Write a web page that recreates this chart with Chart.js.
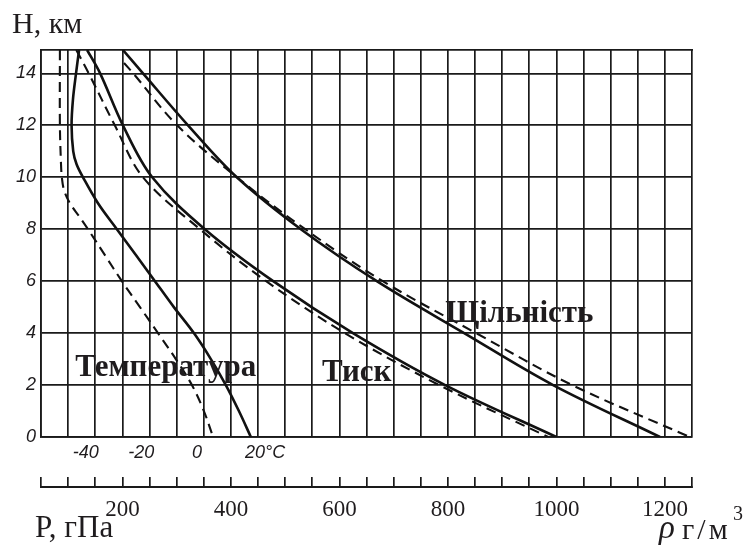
<!DOCTYPE html>
<html>
<head>
<meta charset="utf-8">
<script src="https://cdn.jsdelivr.net/npm/chart.js@4.4.1/dist/chart.umd.min.js"></script>
<style>
  html, body { margin: 0; padding: 0; background: #fff; }
  #chart { display: block; }
</style>
</head>
<body>
<canvas id="chart" width="749" height="546"></canvas>
<script>
// heights, km
const hTempStd = [14.9, 14, 13, 12, 11, 10.5, 10, 9, 8, 7, 6, 5, 4, 3, 2, 1, 0];
const tempStd = [-42.4, -43.5, -44.6, -45.1, -44.5, -43.3, -41, -35.6, -28.8, -21.9, -15.1, -8.3, -1.1, 5, 10.4, 15.1, 19.4];
const hTempDash = [14.9, 12, 10.5, 10, 9.5, 9, 8.5, 8, 7, 6, 5, 4, 3, 2, 1, 0];
const tempDash = [-49.3, -49.3, -48.9, -48.6, -47.8, -45.7, -42.4, -39.2, -33.1, -27, -20.5, -14, -7.6, -1.8, 2.5, 5.8];

const hLevels = [14.9, 14, 12, 10, 8, 6, 4, 2, 0];
const pressureStd = [135, 159, 201, 255, 352, 478, 625, 795, 1000];
const pressureDash = [115, 138, 186, 238, 343, 465, 610, 784, 985];
const densityStd = [201, 238, 321, 411, 529, 669, 830, 994, 1191];
const hDensityDash = [14.4, 14, 12, 10, 8, 6, 4, 2, 0];
const densityDash = [203, 220, 301, 411, 537, 680, 852, 1029, 1246];

const tempTicks = [-40, -20, 0, 20];
const pressureLabels = [200, 400, 600, 800, 1000, 1200];

const curveLabels = [
  { text: 'Температура', p: 113, h: 2.66 },
  { text: 'Тиск', p: 568, h: 2.46 },
  { text: 'Щільність', p: 795, h: 4.74 }
];

const INK = '#1f1c1e';
const GRID = '#1a1a1a';

function pts(xs, hs) {
  return xs.map((v, i) => ({ x: v, y: hs[i] }));
}

function curve(data, axis, dashed) {
  return {
    data: data,
    xAxisID: axis,
    yAxisID: 'y',
    showLine: true,
    borderColor: '#111',
    borderWidth: dashed ? 2.1 : 2.6,
    borderDash: dashed ? [10, 6] : [],
    pointRadius: 0,
    tension: 0.35,
    fill: false
  };
}

const labelsPlugin = {
  id: 'labels',
  afterDraw(chart) {
    const { ctx, scales } = chart;
    const x = scales.x, y = scales.y, xP = scales.xP;
    ctx.save();
    ctx.fillStyle = INK;
    ctx.textAlign = 'left';
    ctx.textBaseline = 'middle';
    ctx.font = 'bold 31px "Liberation Serif"';
    curveLabels.forEach(l => {
      ctx.fillText(l.text, x.getPixelForValue(l.p), y.getPixelForValue(l.h));
    });
    ctx.textBaseline = 'alphabetic';
    ctx.font = '31px "Liberation Serif"';
    ctx.fillText('P, гПа', x.left - 6, xP.top + 50);
    ctx.font = 'italic 33px "Liberation Serif"';
    ctx.fillText('ρ', 659, xP.top + 51);
    ctx.font = '30px "Liberation Serif"';
    ctx.letterSpacing = '3px';
    ctx.fillText('г/м', 682, xP.top + 52);
    ctx.letterSpacing = '0px';
    ctx.font = '20px "Liberation Serif"';
    ctx.fillText('3', 733, xP.top + 33);
    ctx.restore();
  }
};

new Chart(document.getElementById('chart'), {
  type: 'scatter',
  data: {
    datasets: [
      curve(pts(tempStd, hTempStd), 'xT', false),
      curve(pts(tempDash, hTempDash), 'xT', true),
      curve(pts(pressureStd, hLevels), 'x', false),
      curve(pts(pressureDash, hLevels), 'x', true),
      curve(pts(densityStd, hLevels), 'x', false),
      curve(pts(densityDash, hDensityDash), 'x', true)
    ]
  },
  options: {
    responsive: false,
    animation: false,
    devicePixelRatio: 1,
    layout: { padding: { left: 12, right: 57, top: 7, bottom: 0 } },
    plugins: {
      legend: { display: false },
      tooltip: { enabled: false },
      title: {
        display: true,
        text: 'H, км',
        align: 'start',
        color: INK,
        font: { family: 'Liberation Serif', size: 30, weight: 'normal', lineHeight: 1.2 },
        padding: { top: 0, bottom: 7 }
      }
    },
    scales: {
      x: {
        type: 'linear', position: 'bottom', min: 50, max: 1250, weight: 0,
        ticks: { display: false, stepSize: 50 },
        grid: { color: GRID, lineWidth: 1.7, drawTicks: false },
        border: { display: true, color: GRID, width: 1.7 },
        afterFit: s => { s.height = 0; }
      },
      xT: {
        type: 'linear', position: 'bottom', min: -56.1, max: 178.1, weight: 1,
        afterBuildTicks: s => { s.ticks = tempTicks.map(v => ({ value: v })); },
        ticks: {
          autoSkip: false, maxRotation: 0, padding: 5, color: INK,
          font: { family: 'Liberation Sans', style: 'italic', size: 18 },
          callback: v => v === 20 ? '\u2007\u2007 20°C' : String(v)
        },
        grid: { display: false, drawTicks: false },
        border: { display: false },
        afterFit: s => { s.height = 50; }
      },
      xP: {
        type: 'linear', position: 'bottom', min: 50, max: 1250, weight: 2,
        ticks: {
          stepSize: 50, autoSkip: false, maxRotation: 0, padding: 19, color: INK,
          font: { family: 'Liberation Serif', size: 23 },
          callback: v => pressureLabels.includes(v) ? String(v) : ''
        },
        grid: { drawOnChartArea: false, drawTicks: true, tickLength: -10, color: GRID, lineWidth: 1.7 },
        border: { display: true, color: GRID, width: 2 },
        afterFit: s => { s.height = 59; }
      },
      xTop: {
        type: 'linear', position: 'top', min: 50, max: 1250,
        ticks: { display: false },
        grid: { display: false },
        border: { display: true, color: GRID, width: 1.7 },
        afterFit: s => { s.height = 0; }
      },
      y: {
        type: 'linear', position: 'left', min: 0, max: 14.9,
        ticks: {
          stepSize: 2, includeBounds: false, padding: 5, color: INK,
          font: { family: 'Liberation Sans', style: 'italic', size: 18 }
        },
        grid: { color: GRID, lineWidth: 1.7, drawTicks: false },
        border: { display: true, color: GRID, width: 1.7 },
        afterFit: s => { s.width = 29; }
      }
    }
  },
  plugins: [labelsPlugin]
});
</script>
</body>
</html>
